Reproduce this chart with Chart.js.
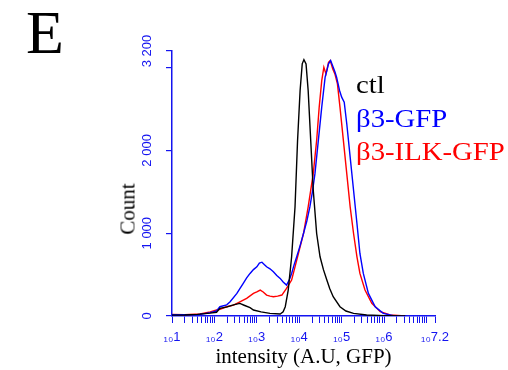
<!DOCTYPE html>
<html><head><meta charset="utf-8">
<script src="https://cdn.jsdelivr.net/npm/chart.js@4.4.1/dist/chart.umd.min.js"></script>
<style>
html,body{margin:0;padding:0;background:#fff;}
#wrap{position:relative;width:508px;height:370px;overflow:hidden;background:#fff;}
canvas{position:absolute;left:0;top:0;}
.t{position:absolute;font-family:"Liberation Serif","Times New Roman",serif;white-space:nowrap;}
.lg{font-size:25px;line-height:25px;transform:scaleX(1.15);transform-origin:0 50%;}
</style></head><body>
<div id="wrap">
<canvas id="c" width="508" height="370"></canvas>
<div class="t" style="left:26px;top:1px;font-size:62px;line-height:62px;color:#000">E</div>
<div class="t" style="left:128px;top:209px;font-size:21px;line-height:21px;color:#000;transform:translate(-50%,-50%) rotate(-90deg);">Count</div>
<div class="t lg" style="left:356px;top:72px;color:#000">ctl</div>
<div class="t lg" style="left:356px;top:106px;color:#0000ff">β3-GFP</div>
<div class="t lg" style="left:356px;top:139px;color:#ff0000">β3-ILK-GFP</div>
</div>
<script>
// log10 intensity (x) and event counts (y)
const ctlX = [1.0,1.3,1.6,1.9,2.05,2.13,2.3,2.45,2.6,2.7,2.84,2.92,3.1,3.31,3.55,3.62,3.67,3.74,3.82,3.9,3.96,4.02,4.07,4.11,4.16,4.21,4.27,4.33,4.41,4.49,4.57,4.65,4.72,4.8,4.96,5.1,5.28,5.59,6.0,6.5];
const ctlY = [10,12,20,35,45,92,110,135,152,130,100,72,50,32,24,50,112,313,715,1317,2120,2723,3045,3096,3045,2723,2120,1518,996,715,560,434,330,233,112,60,32,12,5,2];
const gfpX = [1.0,1.3,1.66,1.9,2.05,2.13,2.29,2.37,2.53,2.6,2.68,2.76,2.84,2.92,3.0,3.06,3.12,3.18,3.23,3.31,3.39,3.47,3.55,3.62,3.7,3.76,3.82,3.88,3.94,4.02,4.1,4.18,4.25,4.31,4.37,4.45,4.53,4.61,4.65,4.69,4.74,4.8,4.84,4.88,4.95,5.0,5.06,5.12,5.2,5.28,5.36,5.43,5.51,5.63,5.79,5.98,6.22,6.53];
const gfpY = [15,15,20,40,60,112,135,172,273,330,394,460,514,560,594,640,650,620,594,570,534,490,454,410,373,430,514,620,715,850,996,1150,1317,1500,1719,2120,2522,2884,2960,3045,3084,3004,2950,2884,2723,2643,2582,2322,1919,1518,1117,755,514,273,112,32,5,0];
const ilkX = [1.0,1.3,1.66,1.9,2.05,2.13,2.29,2.45,2.6,2.76,2.92,3.0,3.08,3.15,3.23,3.31,3.39,3.49,3.59,3.7,3.82,3.9,3.98,4.1,4.21,4.33,4.41,4.47,4.53,4.58,4.63,4.69,4.73,4.79,4.84,4.9,4.96,5.04,5.12,5.2,5.28,5.36,5.43,5.55,5.71,5.91,6.14,6.5];
const ilkY = [20,15,24,50,72,80,112,132,172,213,273,290,313,290,253,240,233,240,253,333,434,594,755,996,1317,1719,2120,2522,2843,3004,2924,3064,3084,2984,2924,2803,2522,2120,1719,1317,996,715,514,313,153,52,12,0];

const seriesNames = ['ctl','β3-GFP','β3-ILK-GFP'];
const yTickValues = [0,1000,2000,3000,3200];
const yTickLabels = ['0','1 000','2 000','','3 200'];
const xLabelledExps = [1,2,3,4,5,6,7.2];
const xMin = 1, xMax = 7.2, yMin = 0, yMax = 3200;

const BLUE = '#1414f0';
function pts(xs, ys){ return xs.map((x,i)=>({x:x,y:ys[i]})); }
function xTickValues(){
  const t=[];
  for(let n=1;n<=7;n++){ for(let k=1;k<=9;k++){ const v=n+Math.log10(k); if(v<=xMax+1e-9) t.push(v); } }
  t.push(xMax);
  return t;
}

new Chart(document.getElementById('c'), {
  type: 'scatter',
  data: { datasets: [
    {label: seriesNames[0], data: pts(ctlX, ctlY), borderColor:'#000000'},
    {label: seriesNames[1], data: pts(gfpX, gfpY), borderColor:'#0000ff'},
    {label: seriesNames[2], data: pts(ilkX, ilkY), borderColor:'#ff0000'}
  ].map(d=>Object.assign(d,{showLine:true,pointRadius:0,borderWidth:1.4,tension:0,fill:false})) },
  options: {
    responsive:false, animation:false, devicePixelRatio:1,
    layout:{padding:{left:0,right:73,top:51,bottom:0}},
    plugins:{legend:{display:false}, tooltip:{enabled:false}},
    scales:{
      x:{
        type:'linear', min:xMin, max:xMax,
        afterBuildTicks:(s)=>{ s.ticks = xTickValues().map(v=>({value:v})); },
        afterFit:(s)=>{ s.height = 54; },
        grid:{display:true, drawOnChartArea:false, drawTicks:true, tickLength:7, color:BLUE, lineWidth:1},
        border:{display:true, color:BLUE, width:1.5},
        ticks:{autoSkip:false, maxRotation:0, minRotation:0, padding:7, color:BLUE,
          font:{family:'"Liberation Sans","DejaVu Sans",sans-serif', size:13},
          callback:(v)=>{ const m = xLabelledExps.find(e=>Math.abs(e-v)<1e-6); return m===undefined ? '' : '₁₀'+m; }},
        title:{display:true, text:'intensity (A.U, GFP)', color:'#000', padding:{top:0,bottom:0},
          font:{family:'"Liberation Serif","Times New Roman",serif', size:21}}
      },
      y:{
        type:'linear', min:yMin, max:yMax,
        afterBuildTicks:(s)=>{ s.ticks = yTickValues.map(v=>({value:v})); },
        afterFit:(s)=>{ s.width = 172; },
        grid:{display:true, drawOnChartArea:false, drawTicks:true, tickLength:6, color:BLUE, lineWidth:1.2},
        border:{display:true, color:BLUE, width:1.5},
        ticks:{autoSkip:false, minRotation:90, maxRotation:90, crossAlign:'center', padding:2, color:BLUE,
          font:{family:'"Liberation Sans","DejaVu Sans",sans-serif', size:13},
          callback:(v)=>{ const i = yTickValues.indexOf(v); return i<0 ? '' : yTickLabels[i]; }},
        title:{display:false}
      }
    }
  }
});
</script>
</body></html>
